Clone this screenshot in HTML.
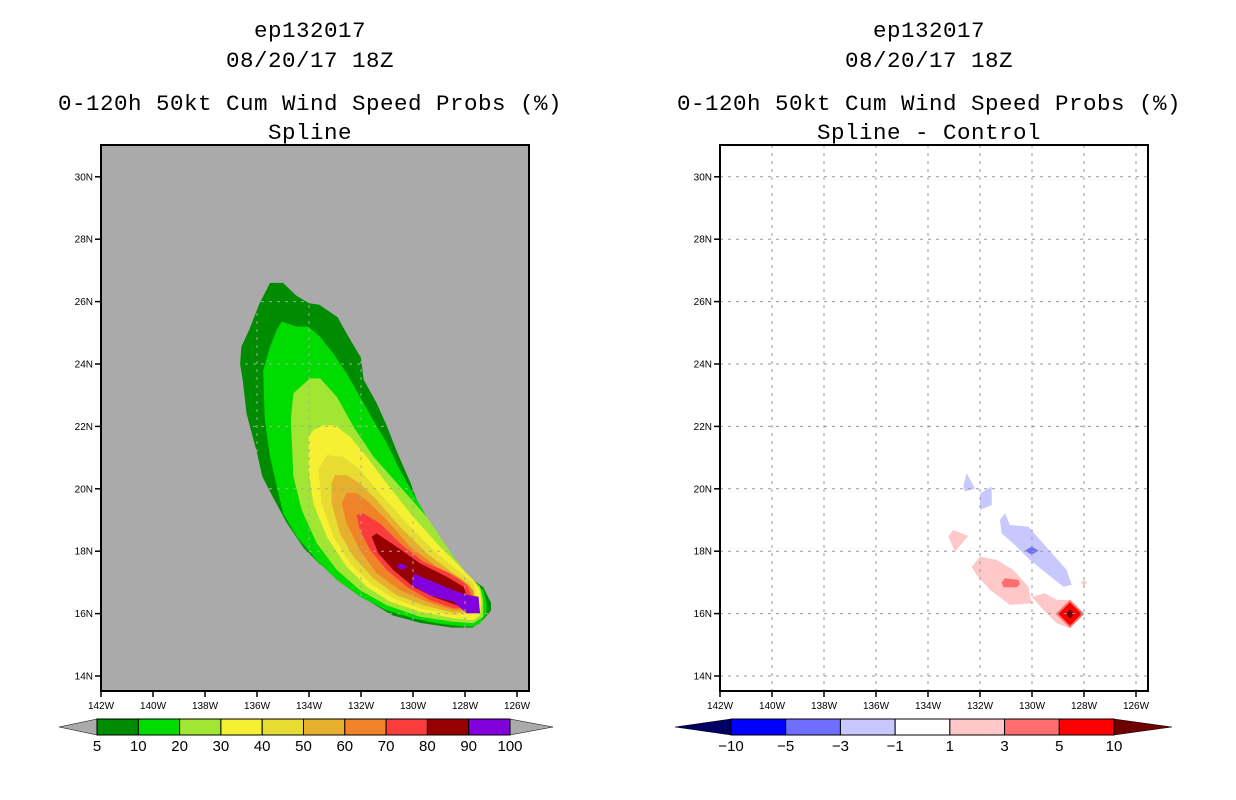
<!DOCTYPE html>
<html><head><meta charset="utf-8"><style>
html,body{margin:0;padding:0;background:#fff;width:1236px;height:800px;overflow:hidden}
svg{display:block}
.t{font-family:"Liberation Mono",monospace;font-size:22.5px;letter-spacing:0.5px;fill:#000;text-anchor:middle}
.tk{font-family:"Liberation Sans",sans-serif;font-size:10px;fill:#000}
.cb{font-family:"Liberation Sans",sans-serif;font-size:15px;fill:#000;text-anchor:middle}
</style></head><body>
<svg id="s" width="1236" height="800" xmlns="http://www.w3.org/2000/svg"></svg>
<script>
// ---- data ----
const latTicks=[14,16,18,20,22,24,26,28,30];
const lonTicks=[142,140,138,136,134,132,130,128,126];
const probLevels=[5,10,20,30,40,50,60,70,80,90,100];
const probColors=['#008c00','#00dc00','#a0e632','#f5f032','#e6dc32','#e6af2d','#f08228','#fa3c3c','#960000','#8200dc'];
const diffLevels=[-10,-5,-3,-1,1,3,5,10];
const diffColors=['#0000ff','#6e6eff','#c8c8ff','#ffffff','#ffc8c8','#ff6e6e','#ff0000'];
const c05=[[135.5,26.6],[135.0,26.6],[134.5,26.2],[134.0,25.95],[133.6,25.9],[132.9,25.5],[132.5,24.9],[132.0,24.2],[131.9,23.5],[131.4,22.75],[131.0,22.0],[130.6,21.15],[130.1,20.2],[129.7,19.3],[129.2,18.6],[128.7,17.8],[128.5,17.5],[127.9,17.2],[127.3,16.85],[127.0,16.35],[127.0,16.1],[127.3,15.8],[127.7,15.55],[128.5,15.55],[129.7,15.7],[130.8,15.95],[131.9,16.5],[132.5,17.0],[133.6,17.6],[134.2,18.1],[134.85,18.9],[135.4,19.75],[135.8,20.4],[136.0,21.15],[136.4,22.4],[136.55,23.5],[136.65,24.0],[136.6,24.55],[136.3,25.1],[135.9,25.95]];
const c10=[[135.05,25.36],[134.47,25.2],[134.03,25.2],[133.58,24.88],[133.07,24.34],[132.55,23.7],[132.04,22.95],[131.53,22.2],[131.0,21.46],[130.5,20.6],[130.0,19.86],[129.47,19.1],[128.96,18.36],[128.45,17.7],[128.06,17.4],[127.68,16.97],[127.3,16.76],[127.17,16.33],[127.17,16.0],[127.42,15.69],[127.68,15.58],[128.2,15.6],[129.1,15.69],[130.0,15.85],[131.0,16.1],[132.04,16.54],[132.93,17.08],[133.7,17.7],[134.47,18.46],[134.99,19.2],[135.24,20.07],[135.5,21.03],[135.7,22.2],[135.76,23.8],[135.5,24.55],[135.24,25.1]];
const c20=[[133.96,23.54],[133.57,23.54],[132.93,22.95],[132.29,21.99],[131.52,21.03],[130.5,20.07],[129.47,19.1],[128.45,17.82],[127.93,17.29],[127.42,16.86],[127.3,16.43],[127.3,15.9],[127.68,15.69],[128.45,15.74],[129.73,15.9],[131.01,16.27],[132.04,16.75],[132.93,17.4],[133.7,18.25],[134.28,19.32],[134.6,20.39],[134.7,22.2],[134.6,23.06]];
const c30=[[133.45,22.04],[133.0,22.04],[132.42,21.67],[131.78,21.03],[131.01,20.17],[129.99,19.1],[128.96,18.14],[128.19,17.5],[127.68,17.07],[127.42,16.75],[127.36,16.33],[127.42,15.95],[127.68,15.79],[128.45,15.85],[129.73,16.06],[130.88,16.38],[131.78,16.86],[132.55,17.5],[133.32,18.46],[133.83,19.53],[134.02,20.6],[134.02,21.67],[133.83,21.88]];
const c40=[[133.32,21.08],[132.68,21.03],[132.04,20.6],[131.27,19.85],[130.24,18.89],[129.22,18.04],[128.32,17.4],[127.68,16.97],[127.48,16.33],[127.55,16.01],[128.45,15.95],[129.73,16.17],[130.76,16.49],[131.65,16.97],[132.42,17.61],[133.06,18.46],[133.51,19.53],[133.64,20.6]];
const c50=[[133.0,20.44],[132.55,20.44],[132.04,20.17],[131.4,19.64],[130.5,18.78],[129.47,17.93],[128.45,17.29],[127.81,16.92],[127.55,16.33],[127.62,16.06],[128.45,16.03],[129.6,16.27],[130.63,16.59],[131.53,17.13],[132.29,17.82],[132.81,18.57],[133.13,19.53],[133.13,20.17]];
const c60=[[132.55,19.87],[132.17,19.87],[131.65,19.53],[131.01,19.0],[130.11,18.14],[129.09,17.5],[128.19,17.13],[127.68,16.75],[127.62,16.33],[127.68,16.11],[128.45,16.11],[129.47,16.38],[130.5,16.75],[131.4,17.29],[132.04,18.04],[132.55,18.89],[132.74,19.53]];
const c70=[[132.17,19.16],[131.91,19.21],[131.27,18.89],[130.5,18.25],[129.6,17.66],[128.58,17.29],[127.93,16.92],[127.68,16.44],[127.74,16.17],[128.45,16.17],[129.35,16.43],[130.24,16.86],[131.01,17.4],[131.65,18.04],[132.04,18.68]];
const c80=[[131.59,18.46],[131.4,18.57],[130.63,18.14],[129.73,17.61],[128.7,17.18],[128.06,16.86],[127.81,16.33],[127.87,16.22],[128.32,16.27],[129.22,16.54],[129.99,16.86],[130.76,17.4],[131.33,17.93]];
const c90=[[129.99,17.29],[129.09,16.97],[128.45,16.75],[127.93,16.6],[127.48,16.54],[127.42,16.01],[127.93,16.01],[128.45,16.38],[129.35,16.59],[130.05,16.92]];
const c90b=[[130.5,17.61],[130.18,17.5],[130.44,17.4],[130.63,17.5]];
const probContours=[c05,c10,c20,c30,c40,c50,c60,c70,c80,c90,c90b];
const probContourLevel=[0,1,2,3,4,5,6,7,8,9,9];
// difference field
const dNeg1a=[[132.51,20.5],[132.19,20.01],[132.58,19.91],[132.64,20.12]];
const dNeg1b=[[132.0,19.85],[131.55,20.07],[131.55,19.48],[132.0,19.32]];
const dNeg1c=[[131.04,19.21],[130.85,18.84],[130.14,18.79],[129.69,18.36],[129.18,17.88],[128.67,17.4],[128.47,16.92],[128.79,16.86],[129.44,17.29],[130.08,17.72],[130.72,18.25],[131.17,18.57],[131.23,19.0]];
const dNeg3=[[130.27,18.02],[130.01,18.15],[129.75,18.02],[130.01,17.89]];
const dPos1a=[[133.22,18.47],[133.03,18.68],[132.45,18.49],[132.96,17.98]];
const dPos1b=[[132.32,17.5],[132.0,17.82],[131.36,17.72],[130.72,17.4],[130.14,16.86],[130.01,16.33],[130.85,16.28],[131.62,16.76],[132.13,17.24]];
const dPos1c=[[130.01,16.54],[129.5,16.65],[129.05,16.44],[128.54,16.44],[128.09,15.96],[128.54,15.53],[129.05,15.69],[129.56,16.12]];
const dPos1d=[[128.12,16.99],[128.0,17.08],[127.88,16.99],[128.0,16.9]];
const dPos3a=[[131.17,17.0],[131.04,17.13],[130.53,17.08],[130.46,16.95],[130.59,16.84],[131.1,16.84]];
const dPos3b=[[129.09,15.99],[128.54,16.44],[127.99,15.99],[128.54,15.54]];
const dPos5=[[128.99,15.99],[128.54,16.36],[128.09,15.99],[128.54,15.62]];
const dPos10=[[128.69,15.99],[128.54,16.14],[128.39,15.99],[128.54,15.84]];
const diffContours=[dNeg1a,dNeg1b,dNeg1c,dNeg3,dPos1a,dPos1b,dPos1c,dPos1d,dPos3a,dPos3b,dPos5,dPos10];
const diffContourColor=['#c8c8ff','#c8c8ff','#c8c8ff','#6e6eff','#ffc8c8','#ffc8c8','#ffc8c8','#ffc8c8','#ff6e6e','#ff6e6e','#ff0000','#6e0000'];

// ---- axes ----
const NS='http://www.w3.org/2000/svg';
const S=document.getElementById('s');
const PX=26, PY=31.2;
function xAxis(x0){return lon=>x0+(142-lon)*PX;}
function yAxis(lat){return 676-(lat-14)*PY;}
function mk(tag,attrs,parent){const e=document.createElementNS(NS,tag);for(const k in attrs)e.setAttribute(k,attrs[k]);(parent||S).appendChild(e);return e;}
function txt(x,y,s,cls,parent,anchor){const e=mk('text',{x:x,y:y,class:cls},parent);if(anchor)e.setAttribute('text-anchor',anchor);e.textContent=s;return e;}

function panel(x0,name,bg,contours,colorOf,gridCol,sub){
  const g=mk('g',{});
  
  
  const X=xAxis(x0);
  const bgR=mk('rect',{x:x0,y:145,width:428,height:546,fill:bg},g);
  
  
  contours.forEach((c,i)=>{
    const p=mk('polygon',{points:c.map(q=>X(q[0]).toFixed(1)+','+yAxis(q[1]).toFixed(1)).join(' '),fill:colorOf(i)},g);
    
    
  });
  lonTicks.forEach(l=>{
    if(l<142){const ln=mk('line',{x1:X(l),x2:X(l),y1:145,y2:691,stroke:gridCol,'stroke-width':1,'stroke-dasharray':'3,5'},g);
    
    }
    mk('line',{x1:X(l),x2:X(l),y1:691,y2:697,stroke:'#000','stroke-width':1.5},g);
    const t=txt(X(l),709,l+'W','tk',g,'middle');
    
    
  });
  latTicks.forEach(l=>{
    const ln=mk('line',{x1:x0,x2:x0+428,y1:yAxis(l),y2:yAxis(l),stroke:gridCol,'stroke-width':1,'stroke-dasharray':'3,5'},g);
    
    
    mk('line',{x1:x0-6,x2:x0,y1:yAxis(l),y2:yAxis(l),stroke:'#000','stroke-width':1.5},g);
    const t=txt(x0-8,yAxis(l)+3.5,l+'N','tk',g,'end');
    
    
  });
  const fr=mk('rect',{x:x0,y:145,width:428,height:546,fill:'none',stroke:'#000','stroke-width':2},g);
  
  
  const cx=x0+209;
  [['ep132017',37,'storm-id'],['08/20/17 18Z',67,'date-title'],['0-120h 50kt Cum Wind Speed Probs (%)',110,'chart-title'],[sub,139,'subtitle']].forEach(a=>{
    const t=txt(cx,a[1],a[0],'t',g);
    
    
  });
}
panel(101,'probability-panel','#aaaaaa',probContours,i=>probColors[probContourLevel[i]],'#a8a8a8','Spline');
panel(720,'difference-panel','#ffffff',diffContours,i=>diffContourColor[i],'#999999','Spline - Control');

// ---- colorbars ----
function colorbar(x0,x1,tl,tr,levels,colors,tlCol,trCol,name){
  const g=mk('g',{});
  
  
  const n=colors.length,w=(x1-x0)/n;
  const l=mk('polygon',{points:`${tl},727 ${x0},719 ${x0},735`,fill:tlCol,stroke:'#000','stroke-width':0.5},g);
  
  
  const r=mk('polygon',{points:`${tr},727 ${x1},719 ${x1},735`,fill:trCol,stroke:'#000','stroke-width':0.5},g);
  
  
  colors.forEach((c,i)=>{
    const b=mk('rect',{x:x0+i*w,y:719,width:w,height:16,fill:c,stroke:'#000','stroke-width':1},g);
    
    
  });
  levels.forEach((v,i)=>{
    const t=txt(x0+i*w,751,String(v).replace('-','\u2212'),'cb',g);
    
    
  });
}
colorbar(97,510,59,553,probLevels,probColors,'#aaaaaa','#aaaaaa','probability-colorbar');
colorbar(731,1114,675,1172,diffLevels,diffColors,'#000064','#6e0000','difference-colorbar');
</script>
</body></html>
